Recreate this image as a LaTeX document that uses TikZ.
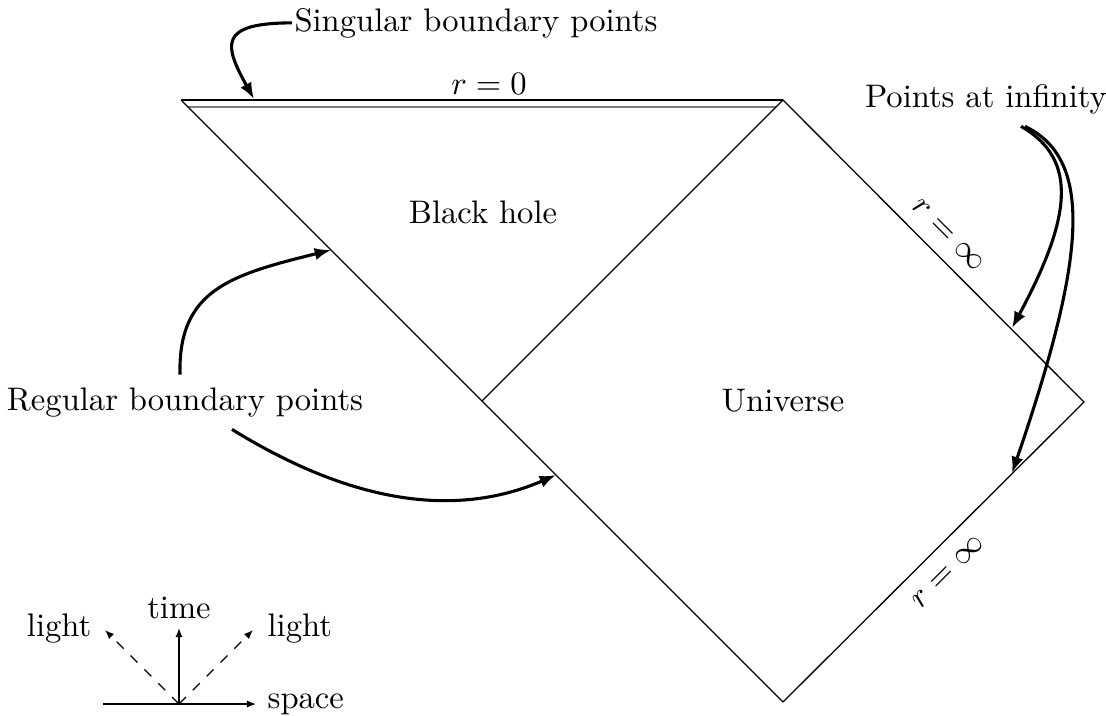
\documentclass[tikz,border=0pt]{standalone}
\usetikzlibrary{arrows.meta,calc}
\begin{document}
\begin{tikzpicture}[x=0.3066pt,y=-0.3066pt,
  edge/.style={line width=0.4pt},
  callout/.style={line width=0.95pt,-{Latex[length=5pt,width=3.8pt]}},
  legarrow/.style={line width=0.4pt,-{Latex[length=2.8pt,width=2.2pt]}},
  txt/.style={inner sep=0pt,anchor=base}]
\useasboundingbox (0,0) rectangle (1106,715);
% corners
\coordinate (TL) at (181,100);
\coordinate (T) at (783,100);
\coordinate (L) at (482,401);
\coordinate (R) at (1084,402);
\coordinate (B) at (783,702);
\coordinate (TLin) at (188,107);
\coordinate (Tin) at (776,107);
\draw[edge] (TL) -- (T);
\draw[gray,line width=0.7pt] (TLin) -- (Tin);
\draw[edge] (TL) -- (B);
\draw[edge] (L) -- (T) -- (R) -- (B);
% labels
\node[txt] (r0) at (489,94) {$r=0$};
\node[txt] (bh) at (483,223) {Black hole};
\node[txt] (uni) at (783,411) {Universe};
\node[rotate=-45] (ri1) at (948,235) {$r=\infty$};
\node[rotate=45] (ri2) at (948,572) {$r=\infty$};
\node[txt] (sing) at (476,31) {Singular boundary points};
\node[txt] (pinf) at (986,107) {Points at infinity};
\node[txt] (reg) at (185,410) {Regular boundary points};
% targets
\coordinate (s1) at (254,99);
\coordinate (rb1) at (331,250);
\coordinate (rb2) at (556,475);
\coordinate (pi1) at (1012,328);
\coordinate (pi2) at (1012,473);
% callouts
\draw[callout] ($(sing.west)+(-2,0)$) .. controls (218,23) and (224,45) .. (s1);
\draw[callout] ($(reg.north)+(-5,-12)$) .. controls (178,290) and (230,275) .. (rb1);
\draw[callout] ($(reg.south)+(47,12)$) .. controls (330,490) and (440,525) .. (rb2);
\draw[callout] ($(pinf.south)+(35,12)$) .. controls (1080,160) and (1070,220) .. (pi1);
\draw[callout] ($(pinf.south)+(39,12)$) .. controls (1095,160) and (1085,260) .. (pi2);
% legend
\coordinate (O) at (179,704);
\coordinate (Ow) at (103,704);
\coordinate (sx) at (256,704);
\coordinate (tt) at (179,628);
\coordinate (ll) at (105,630);
\coordinate (lr) at (253,630);
\node[txt,anchor=base west] (space) at (267,708) {space};
\node[txt] (time) at (179,618) {time};
\node[txt,anchor=base east] (lightL) at (92,636) {light};
\node[txt,anchor=base west] (lightR) at (267,636) {light};
\draw[legarrow] (Ow) -- (sx);
\draw[legarrow] (O) -- (tt);
\draw[legarrow,dashed] (O) -- (ll);
\draw[legarrow,dashed] (O) -- (lr);
\end{tikzpicture}
\end{document}
